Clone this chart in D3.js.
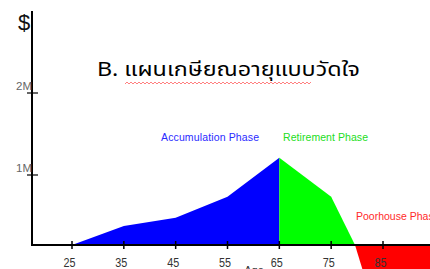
<!DOCTYPE html>
<html>
<head>
<meta charset="utf-8">
<script src="https://cdn.jsdelivr.net/npm/d3@7"></script>
<style>
  html, body { margin: 0; padding: 0; background: #fff; }
  svg { display: block; font-family: "Liberation Sans", Arial, sans-serif; }
</style>
</head>
<body>
<div id="chart"></div>
<script>
// ages and values (millions)
const ages = [25, 35, 45, 55, 65, 75, 85];
const accumulation = [[25, 0], [35, 0.27], [45, 0.39], [55, 0.69], [65, 1.21]];
const retirement = [[65, 1.21], [75, 0.69], [79.6, 0]];
const poorhouse = [[79.6, 0], [81, -0.34], [100, -2]];
const yTicks = [1, 2];
const yTickLabels = ["1M", "2M"];
const title = "B. แผนเกษียณอายุแบบวัดใจ";

const width = 430, height = 269;

const x = d3.scaleLinear().domain([25, 85]).range([72, 383]);
// ticks on the original are not evenly spaced, so use a piecewise scale
const y = d3.scaleLinear().domain([0, 1, 2]).range([245, 175, 93]);

const svg = d3.select("#chart").append("svg")
    .attr("width", width)
    .attr("height", height);

const area = d3.area()
    .x(d => x(d[0]))
    .y0(y(0))
    .y1(d => y(d[1]));

svg.append("path").datum(accumulation).attr("d", area).attr("fill", "#0000ff");
svg.append("path").datum(retirement).attr("d", area).attr("fill", "#00ff00");
svg.append("path").datum(poorhouse).attr("d", area).attr("fill", "#ff0000");

// axes
svg.append("line")
    .attr("x1", 32).attr("x2", 32)
    .attr("y1", 11).attr("y2", y(0) + 1)
    .attr("stroke", "#000").attr("stroke-width", 2);
svg.append("line")
    .attr("x1", 31).attr("x2", width)
    .attr("y1", y(0)).attr("y2", y(0))
    .attr("stroke", "#000").attr("stroke-width", 2);

svg.selectAll(".xtick")
  .data(ages)
  .join("line")
    .attr("x1", d => x(d)).attr("x2", d => x(d))
    .attr("y1", y(0) - 4).attr("y2", y(0) + 4)
    .attr("stroke", "#000").attr("stroke-width", 1.5);

svg.selectAll(".xlabel")
  .data(ages)
  .join("text")
    .attr("x", d => x(d) - 2.5)
    .attr("y", 267)
    .attr("text-anchor", "middle")
    .attr("font-size", 12.5)
    .attr("textLength", 12)
    .attr("lengthAdjust", "spacingAndGlyphs")
    .attr("fill", "#333")
    .text(d => d);

svg.append("text")
    .attr("x", 254).attr("y", 274)
    .attr("text-anchor", "middle")
    .attr("font-size", 11)
    .attr("fill", "#333")
    .text("Age");

svg.selectAll(".ytick")
  .data(yTicks)
  .join("line")
    .attr("x1", 27).attr("x2", 38)
    .attr("y1", d => y(d)).attr("y2", d => y(d))
    .attr("stroke", "#000").attr("stroke-width", 1.2);

svg.selectAll(".ylabel")
  .data(yTicks)
  .join("text")
    .attr("x", 32)
    .attr("y", d => y(d) - 3)
    .attr("text-anchor", "end")
    .attr("font-size", 11)
    .attr("textLength", 16)
    .attr("lengthAdjust", "spacingAndGlyphs")
    .attr("fill", "#666")
    .text((d, i) => yTickLabels[i]);

svg.append("text")
    .attr("x", 18).attr("y", 30)
    .attr("font-size", 22)
    .attr("fill", "#111")
    .text("$");

// phase labels
svg.append("text")
    .attr("x", 161).attr("y", 141)
    .attr("font-size", 10.5)
    .attr("fill", "#2a2aff")
    .attr("textLength", 98)
    .text("Accumulation Phase");
svg.append("text")
    .attr("x", 283).attr("y", 141)
    .attr("font-size", 10.5)
    .attr("fill", "#22dd22")
    .attr("textLength", 85)
    .text("Retirement Phase");
svg.append("text")
    .attr("x", 356).attr("y", 220)
    .attr("font-size", 10.5)
    .attr("fill", "#ff2a2a")
    .text("Poorhouse Phase");

// title with spell-check squiggle under the Thai words
svg.append("text")
    .attr("x", 97).attr("y", 76)
    .attr("font-family", "'Noto Sans Thai', 'Noto Sans', sans-serif")
    .attr("font-size", 20)
    .attr("textLength", 263)
    .attr("lengthAdjust", "spacingAndGlyphs")
    .attr("fill", "#000")
    .text(title);

const wave = d3.range(125, 312, 2).map((px, i) => [px, 83 + (i % 2 ? -1 : 1)]);
svg.append("path")
    .attr("d", d3.line()(wave))
    .attr("fill", "none")
    .attr("stroke", "#ff6060")
    .attr("stroke-width", 0.8);
</script>
</body>
</html>
